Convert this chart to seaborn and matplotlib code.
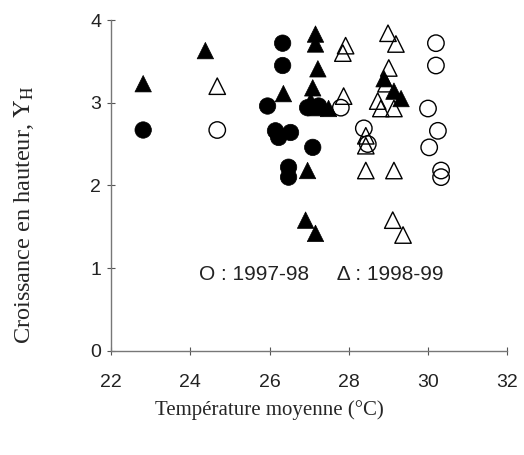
import pandas as pd
import matplotlib.pyplot as plt
import seaborn as sns

# points pleins / vides, cercles = 1997-98, triangles = 1998-99
circ_plein_t = [22.81, 26.33, 26.33, 25.95, 26.15, 26.53, 26.23, 27.09, 26.48, 26.48, 26.96, 27.24]
circ_plein_y = [2.67, 3.72, 3.45, 2.96, 2.66, 2.64, 2.58, 2.46, 2.22, 2.10, 2.94, 2.96]

tri_plein_t = [24.38, 22.81, 26.35, 27.16, 27.16, 27.22, 27.09, 27.04, 27.16, 27.49,
               26.96, 26.91, 27.16, 28.89, 29.14, 29.32]
tri_plein_y = [3.63, 3.23, 3.11, 3.83, 3.71, 3.41, 3.18, 3.02, 2.94, 2.93,
               2.18, 1.58, 1.42, 3.29, 3.14, 3.05]

circ_vide_t = [24.68, 27.80, 28.38, 28.48, 30.20, 30.20, 30.00, 30.25, 30.03, 30.33, 30.33]
circ_vide_y = [2.67, 2.94, 2.69, 2.50, 3.72, 3.45, 2.93, 2.66, 2.46, 2.18, 2.10]

tri_vide_t = [24.68, 27.92, 27.85, 27.87, 28.99, 29.19, 29.01, 28.94, 28.73, 28.81,
              29.14, 28.43, 28.43, 28.43, 29.14, 29.11, 29.37]
tri_vide_y = [3.20, 3.69, 3.60, 3.08, 3.84, 3.71, 3.42, 3.23, 3.02, 2.93,
              2.93, 2.60, 2.48, 2.18, 2.18, 1.58, 1.40]

def tableau(t, y, annee, plein):
    return pd.DataFrame({'temp': t, 'croiss': y, 'annee': annee, 'plein': plein})

df = pd.concat([
    tableau(circ_plein_t, circ_plein_y, '1997-98', True),
    tableau(tri_plein_t, tri_plein_y, '1998-99', True),
    tableau(circ_vide_t, circ_vide_y, '1997-98', False),
    tableau(tri_vide_t, tri_vide_y, '1998-99', False),
], ignore_index=True)

sns.set_style('white')
plt.rcParams['font.family'] = ['Liberation Sans', 'DejaVu Sans']
plt.rcParams['mathtext.fontset'] = 'stix'

fig, ax = plt.subplots(figsize=(5.24, 4.55), dpi=100)
fig.subplots_adjust(left=0.212, right=0.968, bottom=0.229, top=0.956)

marqueurs = {'1997-98': 'o', '1998-99': '^'}

sns.scatterplot(data=df[df.plein], x='temp', y='croiss', style='annee', markers=marqueurs,
                color='black', edgecolor='black', s=140, linewidth=0.5,
                legend=False, clip_on=False, ax=ax)
sns.scatterplot(data=df[~df.plein], x='temp', y='croiss', style='annee', markers=marqueurs,
                facecolors='none', edgecolors='black', s=140, linewidth=1.0,
                legend=False, clip_on=False, ax=ax)

ax.set_xlim(22, 32)
ax.set_ylim(0, 4)
ax.set_xticks([22, 24, 26, 28, 30, 32])
ax.set_yticks([0, 1, 2, 3, 4])

for side in ['top', 'right']:
    ax.spines[side].set_visible(False)
for side in ['left', 'bottom']:
    ax.spines[side].set_color('#777777')
    ax.spines[side].set_linewidth(1.0)

ax.tick_params(axis='both', bottom=True, left=True, direction='inout', length=6, width=0.8,
               color='#555555', labelsize=14, labelcolor='#222222')
ax.tick_params(axis='x', pad=14)
ax.tick_params(axis='y', pad=4)

ax.set_xlabel('Température moyenne (°C)', family='Liberation Serif', fontsize=15)
ax.xaxis.set_label_coords(0.40, -0.15)
ax.set_ylabel(r'Croissance en hauteur, $\mathrm{Y}_{\mathrm{H}}$', family='Liberation Serif',
              fontsize=17.5)
ax.yaxis.set_label_coords(-0.19, 0.41)

ax.text(27.3, 0.92, 'O : 1997-98     Δ : 1998-99', ha='center', va='center',
        fontsize=15, color='#222222')

plt.savefig('out.png', dpi=100)
plt.close()
